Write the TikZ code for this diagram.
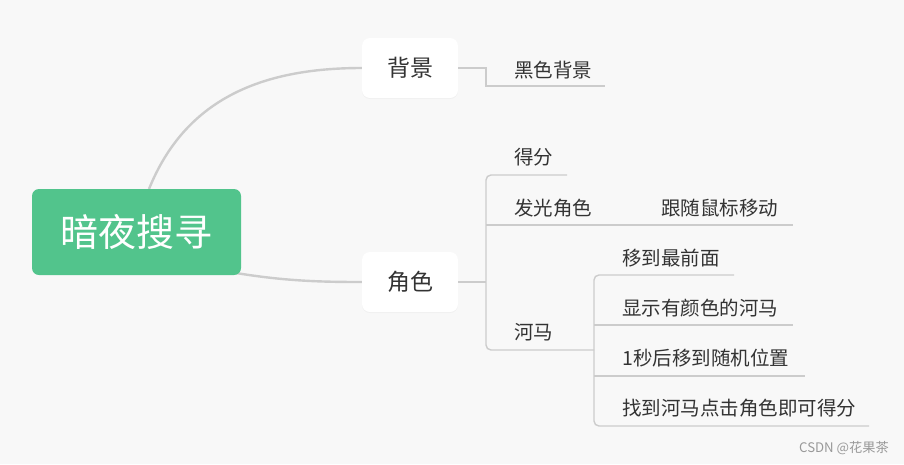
\documentclass[tikz,border=0pt]{standalone}
\usepackage{fontspec}
\setmainfont{Noto Sans CJK SC}
\usetikzlibrary{shadows}
\definecolor{bgc}{HTML}{F8F8F8}
\definecolor{rootc}{HTML}{52C48C}
\definecolor{linec}{HTML}{CCCCCC}
\definecolor{txtc}{HTML}{333333}
\tikzset{
  rootbox/.style={fill=rootc, rounded corners=7pt, minimum width=209pt, minimum height=86pt, text=white, font=\fontsize{38}{40}\selectfont, inner sep=0pt},
  topicbox/.style={fill=white, rounded corners=8pt, minimum width=96pt, minimum height=60pt, text=txtc, font=\fontsize{23}{26}\selectfont, inner sep=0pt, drop shadow={opacity=0.06, shadow xshift=0pt, shadow yshift=-1pt}},
  leaf/.style={anchor=west, text=txtc, font=\fontsize{19.5}{21}\selectfont, inner sep=0pt},
  mainline/.style={draw=linec, line width=2.4pt},
  subline/.style={draw=linec, line width=1.4pt, rounded corners=5pt},
}
\begin{document}
\begin{tikzpicture}[x=1pt,y=-1pt]
\fill[bgc] (0,0) rectangle (904,464);
\useasboundingbox (0,0) rectangle (904,464);
% main curves
\coordinate (rtop) at (149,189);
\coordinate (rbr) at (236,273);
\node[topicbox] (bg) at (410,68) {背景};
\node[topicbox] (js) at (410,282) {角色};
\draw[mainline] (rtop) .. controls (185,100) and (260,68) .. (bg.west);
\draw[mainline] (rbr) .. controls (285,281) and (320,282) .. (js.west);
\node[rootbox] (root) at (136.5,232) {暗夜搜寻};
% leaves
\node[leaf] (hsbj) at (514,70) {黑色背景};
\node[leaf] (df) at (514,157) {得分};
\node[leaf] (fgjs) at (514,208) {发光角色};
\node[leaf] (gs) at (661,208) {跟随鼠标移动};
\node[leaf] (hm) at (514,332) {河马};
\node[leaf] (yd) at (622,258) {移到最前面};
\node[leaf] (xs) at (622,308) {显示有颜色的河马};
\node[leaf] (ym) at (622,358) {1秒后移到随机位置};
\node[leaf] (zd) at (622,408) {找到河马点击角色即可得分};
% 背景 branch
\coordinate (bgk) at (486,68);
\coordinate (bgu) at (605,86);
\draw[subline, rounded corners=0pt] (bg.east) -- (bgk) -- (486,86) -- (bgu);
% 角色 branch
\coordinate (jsk) at (486,282);
\draw[subline] (js.east) -- (jsk);
\draw[subline] (567,175) -- (486,175) -- (486,350) -- (594,350);
\draw[subline] (486,225) -- (793,225);
% 河马 branch
\draw[subline] (734,275) -- (594,275) -- (594,426) -- (869,426);
\draw[subline] (594,325) -- (793,325);
\draw[subline] (594,376) -- (805,376);
% watermark
\node[anchor=east, text=black!40, font=\fontsize{13.2}{15}\selectfont, inner sep=0pt] (wm) at (889,448) {CSDN @花果茶};
\end{tikzpicture}
\end{document}
